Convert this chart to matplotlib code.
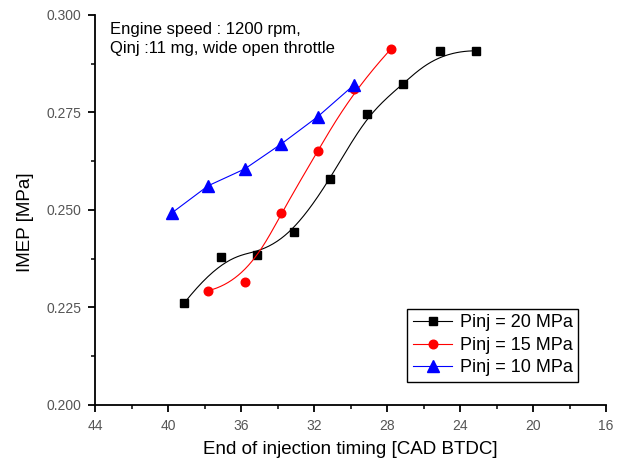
import numpy as np
import matplotlib
matplotlib.use("Agg")
import matplotlib.pyplot as plt
from matplotlib.ticker import MultipleLocator, FormatStrFormatter

plt.rcParams['font.family'] = ['Liberation Sans', 'DejaVu Sans']

# Data
x20 = [39.1, 37.1, 35.1, 33.1, 31.1, 29.1, 27.1, 25.1, 23.1]
y20 = [0.2262, 0.2380, 0.2384, 0.2444, 0.2579, 0.2746, 0.2823, 0.2908, 0.2908]
x15 = [37.8, 35.8, 33.8, 31.8, 29.8, 27.8]
y15 = [0.2293, 0.2316, 0.2492, 0.2651, 0.2809, 0.2912]
x10 = [39.8, 37.8, 35.8, 33.8, 31.8, 29.8]
y10 = [0.2492, 0.2562, 0.2605, 0.2669, 0.2739, 0.2821]

labels = ['Pinj = 20 MPa', 'Pinj = 15 MPa', 'Pinj = 10 MPa']
xticks = [44, 40, 36, 32, 28, 24, 20, 16]
yticks = [0.200, 0.225, 0.250, 0.275, 0.300]


def bspline(xs, ys, n=300, k=3):
    """Clamped cubic B-spline curve using data points as control points."""
    P = np.column_stack([xs, ys]).astype(float)
    m = len(P)
    knots = np.concatenate([np.zeros(k), np.linspace(0, 1, m - k + 1), np.ones(k)])
    t = np.linspace(0, 1, n)
    t[-1] = 1 - 1e-12

    def basis(i, p, t):
        if p == 0:
            return np.where((knots[i] <= t) & (t < knots[i + 1]), 1.0, 0.0)
        out = np.zeros_like(t)
        d1 = knots[i + p] - knots[i]
        d2 = knots[i + p + 1] - knots[i + 1]
        if d1 > 0:
            out += (t - knots[i]) / d1 * basis(i, p - 1, t)
        if d2 > 0:
            out += (knots[i + p + 1] - t) / d2 * basis(i + 1, p - 1, t)
        return out

    C = np.zeros((n, 2))
    for i in range(m):
        C += basis(i, k, t)[:, None] * P[i]
    return C[:, 0], C[:, 1]


fig = plt.figure(figsize=(6.21, 4.66), dpi=100)
ax = fig.add_axes([0.153, 0.131, 0.823, 0.837])

bx, by = bspline(x20, y20)
ax.plot(bx, by, color='black', lw=0.8)
ax.plot(x20, y20, ls='none', marker='s', ms=5.5, color='black')
l20, = ax.plot([], [], color='black', lw=0.8, marker='s', ms=5.5)

rx, ry = bspline(x15, y15)
ax.plot(rx, ry, color='red', lw=0.8)
ax.plot(x15, y15, ls='none', marker='o', ms=6.2, color='red')
l15, = ax.plot([], [], color='red', lw=0.8, marker='o', ms=6.2)

l10, = ax.plot(x10, y10, color='blue', lw=0.8, marker='^', ms=8)

ax.set_xlim(44, 16)
ax.set_ylim(0.200, 0.300)
ax.set_xticks(xticks)
ax.set_yticks(yticks)
ax.xaxis.set_minor_locator(MultipleLocator(2))
ax.yaxis.set_minor_locator(MultipleLocator(0.0125))
ax.yaxis.set_major_formatter(FormatStrFormatter('%.3f'))

for s in ['top', 'right']:
    ax.spines[s].set_visible(False)
for s in ['left', 'bottom']:
    ax.spines[s].set_linewidth(1.3)

ax.tick_params(which='major', direction='out', length=5, width=1.3,
               labelsize=10, labelcolor='#555555', pad=5)
ax.tick_params(which='minor', direction='out', length=3, width=1.1)

ax.set_xlabel('End of injection timing [CAD BTDC]', fontsize=13.5, labelpad=6)
ax.set_ylabel('IMEP [MPa]', fontsize=13.5, labelpad=8)
ax.yaxis.set_label_coords(-0.12, 0.468)

ax.text(0.03, 0.982, 'Engine speed : 1200 rpm,\nQinj :11 mg, wide open throttle',
        transform=ax.transAxes, fontsize=12, va='top', ha='left', linespacing=1.35)

leg = ax.legend([l20, l15, l10], labels, loc='upper left',
                bbox_to_anchor=(0.611, 0.246), borderaxespad=0,
                fontsize=13, handlelength=2.2, handletextpad=0.4,
                borderpad=0.3, labelspacing=0.3, frameon=True,
                fancybox=False, framealpha=1, edgecolor='black')
leg.get_frame().set_linewidth(1.0)

fig.savefig('out.png', dpi=100)
